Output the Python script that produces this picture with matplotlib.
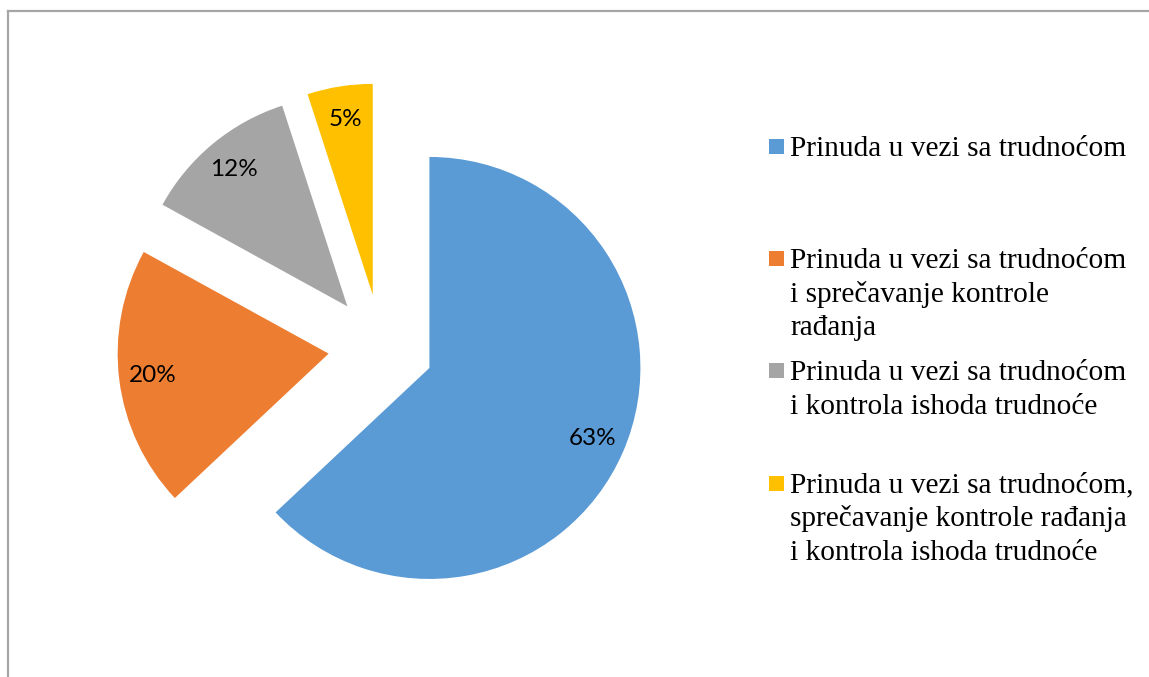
import matplotlib
matplotlib.use('Agg')
import matplotlib.pyplot as plt
from matplotlib.patches import Rectangle
from matplotlib.lines import Line2D

shares = [63, 20, 12, 5]
labels = [
    'Prinuda u vezi sa trudnoćom',
    'Prinuda u vezi sa trudnoćom\ni sprečavanje kontrole\nrađanja',
    'Prinuda u vezi sa trudnoćom\ni kontrola ishoda trudnoće',
    'Prinuda u vezi sa trudnoćom,\nsprečavanje kontrole rađanja\ni kontrola ishoda trudnoće',
]
colors = ['#5b9bd5', '#ed7d31', '#a5a5a5', '#ffc000']

W, H = 1149, 677
R = 211.0          # pie radius in pixels
cx, cy = 381, 347  # pie centre in pixels (from top-left)


def main():
    fig = plt.figure(figsize=(W / 100, H / 100), dpi=100)
    ax = fig.add_axes([0, 0, 1, 1])

    ax.pie(shares, colors=colors, startangle=90, counterclock=False,
           explode=[0.25] * len(shares), radius=1.0,
           autopct='%1.0f%%', pctdistance=0.84,
           textprops={'family': 'Lato', 'fontsize': 17.5, 'color': 'black'},
           wedgeprops={'linewidth': 0})

    # map data units to pixels: 1 unit = R px
    ax.set_aspect('auto')
    ax.set_xlim(-cx / R, (W - cx) / R)
    ax.set_ylim(-(H - cy) / R, cy / R)
    ax.axis('off')

    # chart border (left and top visible)
    fig.add_artist(Line2D([7.5 / W, 7.5 / W], [0, 1 - 11 / H],
                          transform=fig.transFigure, color='#a6a6a6', lw=1.6))
    fig.add_artist(Line2D([7.5 / W, 1], [1 - 11 / H, 1 - 11 / H],
                          transform=fig.transFigure, color='#a6a6a6', lw=1.6))

    # legend, Excel-like equal slots
    base0 = 156
    slot = 112.2
    line_h = 33.5
    for i, (lab, col) in enumerate(zip(labels, colors)):
        b = base0 + slot * i
        fig.add_artist(Rectangle((769 / W, 1 - (b - 2) / H), 15 / W, 15 / H,
                                 transform=fig.transFigure, facecolor=col,
                                 edgecolor='none'))
        for j, line in enumerate(lab.split('\n')):
            fig.text(790 / W, 1 - (b + j * line_h) / H, line,
                     family='Liberation Serif', fontsize=21.2, va='baseline',
                     ha='left', color='black')

    fig.savefig('out.png', dpi=100)


if __name__ == '__main__':
    main()
